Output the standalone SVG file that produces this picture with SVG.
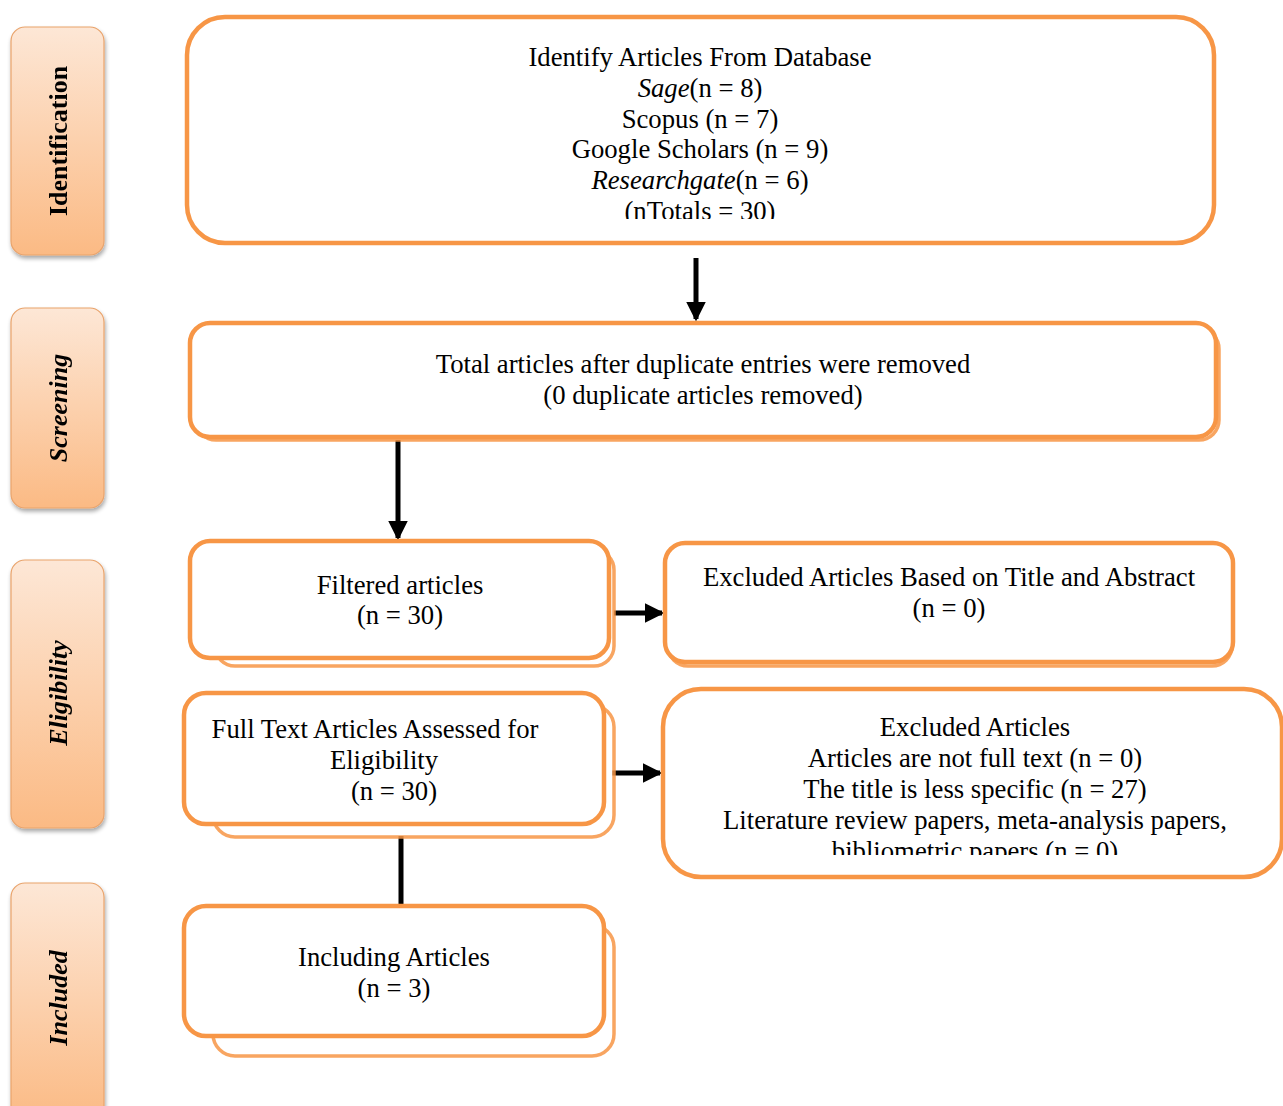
<svg xmlns="http://www.w3.org/2000/svg" width="1283" height="1106" viewBox="0 0 1283 1106">
<defs>
<linearGradient id="phaseGrad" x1="0" y1="0" x2="0" y2="1">
<stop offset="0" stop-color="#FDE7D6"/>
<stop offset="1" stop-color="#FBBA84"/>
</linearGradient>
<filter id="shadow" x="-20%" y="-10%" width="150%" height="130%">
<feGaussianBlur in="SourceAlpha" stdDeviation="2"/>
<feOffset dx="1" dy="3" result="b"/>
<feComponentTransfer><feFuncA type="linear" slope="0.35"/></feComponentTransfer>
<feMerge><feMergeNode/><feMergeNode in="SourceGraphic"/></feMerge>
</filter>
<marker id="arrow" markerWidth="4" markerHeight="4" refX="3.5" refY="2" orient="auto" markerUnits="strokeWidth">
<path d="M0,0 L4,2 L0,4 Z" fill="#000"/>
</marker>
<clipPath id="clip1"><rect x="187" y="17" width="1030" height="202"/></clipPath>
<clipPath id="clip6"><rect x="663" y="689" width="620" height="166"/></clipPath>
</defs>
<style>
.phase{fill:url(#phaseGrad);stroke:#E9A36B;stroke-width:1.2}
.phaseT{font-family:"Liberation Serif","Times New Roman",serif;font-size:26px;font-weight:bold;fill:#000}
.box{fill:#fff;stroke:#F79646;stroke-width:4.5}
.back{fill:#fff;stroke:#F79646;stroke-width:3.5;opacity:0.85}
.t{font-family:"Liberation Serif","Times New Roman",serif;font-size:26.7px;fill:#000;text-anchor:middle}
.conn{stroke:#000;stroke-width:5;fill:none}
</style>
<g id="phase-identification" filter="url(#shadow)">
<rect class="phase" x="11" y="27" width="93" height="228" rx="14"/>
<text class="phaseT" transform="translate(67,141) rotate(-90)" text-anchor="middle">Identification</text>
</g>
<g id="phase-screening" filter="url(#shadow)">
<rect class="phase" x="11" y="308" width="93" height="200" rx="14"/>
<text class="phaseT" transform="translate(67,408) rotate(-90)" text-anchor="middle" font-style="italic">Screening</text>
</g>
<g id="phase-eligibility" filter="url(#shadow)">
<rect class="phase" x="11" y="560" width="93" height="268" rx="14"/>
<text class="phaseT" transform="translate(67,693) rotate(-90)" text-anchor="middle" font-style="italic">Eligibility</text>
</g>
<g id="phase-included" filter="url(#shadow)">
<rect class="phase" x="11" y="883" width="93" height="240" rx="14"/>
<text class="phaseT" transform="translate(67,998) rotate(-90)" text-anchor="middle" font-style="italic">Included</text>
</g>
<g id="connectors">
<line class="conn" x1="696" y1="258" x2="696" y2="319" marker-end="url(#arrow)"/>
<line class="conn" x1="398" y1="440" x2="398" y2="538" marker-end="url(#arrow)"/>
<line class="conn" x1="614" y1="613" x2="662" y2="613" marker-end="url(#arrow)"/>
<line class="conn" x1="612" y1="773" x2="660" y2="773" marker-end="url(#arrow)"/>
<line class="conn" x1="401" y1="836" x2="401" y2="906"/>
</g>
<g id="node-identify">
<rect class="box" x="187" y="17" width="1027" height="226" rx="38"/>
<g clip-path="url(#clip1)">
<text class="t" x="700" y="66">Identify Articles From Database</text>
<text class="t" x="700" y="97"><tspan font-style="italic">Sage</tspan>(n = 8)</text>
<text class="t" x="700" y="128">Scopus (n = 7)</text>
<text class="t" x="700" y="158">Google Scholars (n = 9)</text>
<text class="t" x="700" y="189"><tspan font-style="italic">Researchgate</tspan>(n = 6)</text>
<text class="t" x="700" y="220">(nTotals = 30)</text>
</g>
</g>
<g id="node-screening">
<rect class="back" x="196" y="329" width="1023" height="111" rx="20"/>
<rect class="box" x="190" y="323" width="1026" height="114" rx="20"/>
<text class="t" x="703" y="373">Total articles after duplicate entries were removed</text>
<text class="t" x="703" y="404">(0 duplicate articles removed)</text>
</g>
<g id="node-filtered">
<rect class="back" x="215" y="550" width="399" height="116" rx="20"/>
<rect class="box" x="190" y="541" width="419" height="117" rx="20"/>
<text class="t" x="400" y="594">Filtered articles</text>
<text class="t" x="400" y="624">(n = 30)</text>
</g>
<g id="node-excluded-title">
<rect class="back" x="668" y="548" width="564" height="118" rx="20"/>
<rect class="box" x="665" y="543" width="568" height="119" rx="20"/>
<text class="t" x="949" y="586">Excluded Articles Based on Title and Abstract</text>
<text class="t" x="949" y="617">(n = 0)</text>
</g>
<g id="node-fulltext">
<rect class="back" x="213" y="705" width="401" height="132" rx="22"/>
<rect class="box" x="184" y="693" width="420" height="131" rx="22"/>
<text class="t" x="375" y="738">Full Text Articles Assessed for</text>
<text class="t" x="384" y="769">Eligibility</text>
<text class="t" x="394" y="800">(n = 30)</text>
</g>
<g id="node-excluded-articles">
<rect class="box" x="663" y="689" width="619" height="188" rx="38"/>
<g clip-path="url(#clip6)">
<text class="t" x="975" y="736">Excluded Articles</text>
<text class="t" x="975" y="767">Articles are not full text (n = 0)</text>
<text class="t" x="975" y="798">The title is less specific (n = 27)</text>
<text class="t" x="975" y="829">Literature review papers, meta-analysis papers,</text>
<text class="t" x="975" y="860">bibliometric papers (n = 0)</text>
</g>
</g>
<g id="node-included">
<rect class="back" x="213" y="925" width="401" height="131" rx="22"/>
<rect class="box" x="184" y="906" width="420" height="130" rx="22"/>
<text class="t" x="394" y="966">Including Articles</text>
<text class="t" x="394" y="997">(n = 3)</text>
</g>
</svg>
